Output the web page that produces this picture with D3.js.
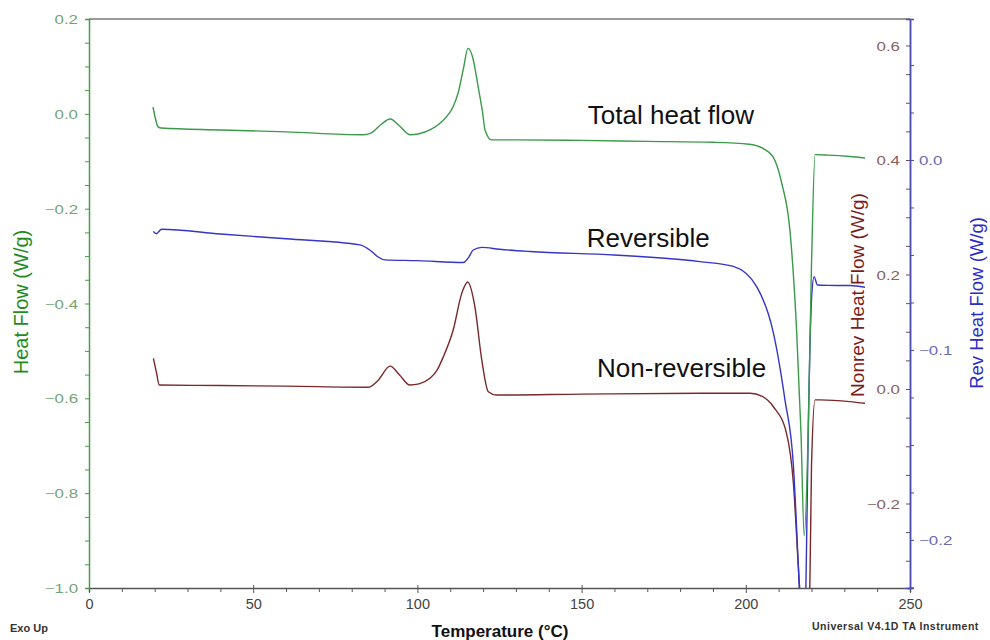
<!DOCTYPE html>
<html>
<head>
<meta charset="utf-8">
<script src="https://cdn.jsdelivr.net/npm/d3@7"></script>
<style>
  body { margin: 0; background: #fff; }
  svg { display: block; font-family: "Liberation Sans", Arial, sans-serif; }
</style>
</head>
<body>
<div id="chart"></div>
<script>
// Total heat flow (W/g), vänster axel
const tempTotal = [19.5, 20.3, 21, 22, 40, 60, 83.4, 86, 89, 91.7, 94.5, 97.7, 100.5, 103.8, 106.5, 108.9, 110.8, 112.4, 114, 115.4, 116.8, 118.5, 119.8, 120.6, 122.6, 130, 150, 170, 190, 201, 205, 208.3, 210.9, 213.5, 215.5, 216.8, 217.8, 219.0, 220.0, 221.1, 225, 231.7, 236.3];
const totalFlow = [0.014, -0.012, -0.027, -0.030, -0.034, -0.038, -0.044, -0.040, -0.022, -0.011, -0.025, -0.044, -0.042, -0.034, -0.022, -0.006, 0.014, 0.044, 0.095, 0.138, 0.120, 0.057, 0.005, -0.034, -0.055, -0.055, -0.056, -0.058, -0.060, -0.064, -0.072, -0.091, -0.145, -0.25, -0.461, -0.672, -0.89, -0.672, -0.32, -0.086, -0.087, -0.09, -0.093];

// Reversible (W/g), höger axel (blå)
const tempRev = [19.6, 20.5, 22.1, 40, 60, 82.5, 85.6, 88, 90.1, 100, 114, 115.5, 117, 119.6, 125, 134.3, 160, 186, 196.2, 203.3, 208.4, 211.9, 214.5, 216, 216.8, 217.4, 218.3, 219, 220, 220.8, 221.8, 225, 231.7, 236.3];
const revFlow = [-0.0377, -0.0388, -0.0365, -0.039, -0.0415, -0.0447, -0.0475, -0.051, -0.0526, -0.053, -0.054, -0.0515, -0.0474, -0.046, -0.047, -0.0482, -0.050, -0.0535, -0.056, -0.0667, -0.091, -0.126, -0.161, -0.214, -0.245, -0.26, -0.225, -0.144, -0.074, -0.0614, -0.0658, -0.066, -0.0661, -0.067];

// Non-reversible (W/g), höger axel (mörkröd)
const tempNonrev = [19.6, 20.5, 21.4, 40, 60, 85, 88, 91.7, 94.5, 97.7, 100.5, 103.8, 106, 107.9, 110.9, 113.5, 115.3, 117.5, 119.6, 121.6, 124.1, 150, 186, 201.3, 205, 208.4, 212.4, 214.5, 216, 217, 217.8, 218.8, 219.5, 220, 221.1, 222.6, 231.7, 236.3];
const nonrevFlow = [0.0536, 0.03, 0.007, 0.006, 0.005, 0.003, 0.015, 0.040, 0.025, 0.007, 0.009, 0.0187, 0.033, 0.0564, 0.103, 0.167, 0.187, 0.144, 0.0507, -0.0047, -0.0105, -0.009, -0.0075, -0.0075, -0.013, -0.031, -0.0774, -0.165, -0.31, -0.40, -0.45, -0.40, -0.345, -0.136, -0.019, -0.019, -0.022, -0.025];

// Axlarnas ticks
const xTicks = [0, 50, 100, 150, 200, 250];
const leftTicks = [-1.0, -0.8, -0.6, -0.4, -0.2, 0.0, 0.2];
const nonrevTicks = [-0.2, 0.0, 0.2, 0.4, 0.6];
const revTicks = [-0.2, -0.1, 0.0];

// texter vid kurvorna, placerade i vänster axels enheter
const labels = [
  {text: "Total heat flow", t: 151.9, v: -0.021},
  {text: "Reversible", t: 151.6, v: -0.28},
  {text: "Non-reversible", t: 154.7, v: -0.554}
];

const width = 990, height = 640;
const mLeft = 89, mRight = 910, mTop = 19, mBottom = 588;

const svg = d3.select("#chart").append("svg")
  .attr("width", width)
  .attr("height", height);

const x = d3.scaleLinear().domain([0, 250]).range([mLeft, mRight]);
const yLeft = d3.scaleLinear().domain([-1.0, 0.2]).range([mBottom, mTop]);
// 0.0 ligger på y=389, 0.4 på y=160
const yNonrev = d3.scaleLinear().domain([-0.3476, 0.6463]).range([mBottom, mTop]);
// 0.0 ligger på y=160, -0.2 på y=540
const yRev = d3.scaleLinear().domain([-0.2253, 0.0742]).range([mBottom, mTop]);

svg.append("clipPath").attr("id", "clip")
  .append("rect")
  .attr("x", mLeft).attr("y", mTop)
  .attr("width", mRight - mLeft).attr("height", mBottom - mTop);

// ram upptill
svg.append("line")
  .attr("x1", mLeft).attr("x2", mRight)
  .attr("y1", mTop).attr("y2", mTop)
  .attr("stroke", "#777").attr("stroke-width", 1.5);

const fmt = d3.format(".1f");
const range = (a, b, s) => d3.range(Math.round(a / s), Math.round(b / s) + 1).map(i => +(i * s).toFixed(4));
const sx = 1.35; // tick-texterna är breda i originalet

// x-axel
const gx = svg.append("g").attr("transform", `translate(0,${mBottom})`);
gx.call(d3.axisBottom(x).tickValues(range(0, 250, 10)).tickSize(4).tickFormat(""));
gx.select("path.domain").attr("stroke", "#555").attr("stroke-width", 1.5);
gx.selectAll(".tick line").attr("stroke", "#555");
gx.selectAll(".tick").filter(d => xTicks.includes(d)).select("line").attr("y1", -3).attr("y2", 5);
gx.selectAll(".tick").filter(d => xTicks.includes(d)).append("text")
  .attr("y", 21)
  .attr("fill", "#444")
  .attr("font-size", 14.5)
  .text(d => d);

// vänster axel
const gl = svg.append("g").attr("transform", `translate(${mLeft},0)`);
gl.call(d3.axisLeft(yLeft).tickValues(range(-1, 0.2, 0.05)).tickSize(4).tickFormat(""));
gl.select("path.domain").attr("stroke", "#4a9c4a").attr("stroke-width", 1.5);
gl.selectAll(".tick line").attr("stroke", "#4a9c4a");
gl.selectAll(".tick").filter(d => leftTicks.some(t => Math.abs(t - d) < 1e-6)).append("text")
  .attr("transform", `scale(${sx},1)`)
  .attr("x", -11 / sx).attr("dy", "0.36em")
  .attr("text-anchor", "end")
  .attr("fill", "#74a474")
  .attr("font-size", 12.5)
  .text(d => fmt(d));

// höger axel, Nonrev (etiketter till vänster om linjen)
const gn = svg.append("g").attr("transform", `translate(${mRight},0)`);
gn.call(d3.axisLeft(yNonrev).tickValues(range(-0.3, 0.6, 0.05)).tickSize(4).tickFormat(""));
gn.select("path.domain").attr("stroke", "#4b4bb0").attr("stroke-width", 1.5);
gn.selectAll(".tick line").attr("stroke", "#6b4a6a");
gn.selectAll(".tick").filter(d => nonrevTicks.some(t => Math.abs(t - d) < 1e-6)).append("text")
  .attr("transform", `scale(${sx},1)`)
  .attr("x", -10 / sx).attr("dy", "0.36em")
  .attr("text-anchor", "end")
  .attr("fill", "#8a6060")
  .attr("font-size", 12.5)
  .text(d => fmt(d));

// höger axel, Rev (etiketter till höger)
const gr = svg.append("g").attr("transform", `translate(${mRight},0)`);
gr.call(d3.axisRight(yRev).tickValues(range(-0.225, 0.05, 0.025)).tickSize(4).tickFormat(""));
gr.select("path.domain").attr("stroke", "#4b4bb0").attr("stroke-width", 1.5);
gr.selectAll(".tick line").attr("stroke", "#4b4bb0");
gr.selectAll(".tick").filter(d => revTicks.some(t => Math.abs(t - d) < 1e-6)).append("text")
  .attr("transform", `scale(${sx},1)`)
  .attr("x", 9 / sx).attr("dy", "0.36em")
  .attr("text-anchor", "start")
  .attr("fill", "#6a6ab0")
  .attr("font-size", 12.5)
  .text(d => fmt(d));

// kurvorna
const plot = svg.append("g").attr("clip-path", "url(#clip)");

function drawLine(ts, vs, y, color) {
  const pts = ts.map((t, i) => [t, vs[i]]);
  const line = d3.line()
    .x(d => x(d[0]))
    .y(d => y(d[1]))
    .curve(d3.curveMonotoneX);
  plot.append("path")
    .datum(pts)
    .attr("d", line)
    .attr("fill", "none")
    .attr("stroke", color)
    .attr("stroke-width", 1.4);
}

drawLine(tempNonrev, nonrevFlow, yNonrev, "#7a2828");
drawLine(tempRev, revFlow, yRev, "#3535c8");
drawLine(tempTotal, totalFlow, yLeft, "#3a9a4a");

// etiketter vid kurvorna
svg.selectAll("text.lbl")
  .data(labels)
  .enter()
    .append("text")
    .attr("class", "lbl")
    .attr("x", d => x(d.t))
    .attr("y", d => yLeft(d.v))
    .attr("font-size", 26)
    .attr("fill", "#111")
    .text(d => d.text);

// axeltitlar
svg.append("text")
  .attr("transform", "translate(28,302) rotate(-90)")
  .attr("text-anchor", "middle")
  .attr("font-size", 20)
  .attr("fill", "#1e8c1e")
  .text("Heat Flow (W/g)");

svg.append("text")
  .attr("transform", "translate(864,295) rotate(-90)")
  .attr("text-anchor", "middle")
  .attr("font-size", 19)
  .attr("fill", "#7b1c1c")
  .text("Nonrev Heat Flow (W/g)");

svg.append("text")
  .attr("transform", "translate(983,303) rotate(-90)")
  .attr("text-anchor", "middle")
  .attr("font-size", 18.5)
  .attr("fill", "#2b2bc8")
  .text("Rev Heat Flow (W/g)");

svg.append("text")
  .attr("x", 500).attr("y", 637)
  .attr("text-anchor", "middle")
  .attr("font-family", "'Liberation Sans Narrow', 'Liberation Sans', Arial")
  .attr("font-weight", "bold")
  .attr("font-size", 17)
  .attr("fill", "#111")
  .text("Temperature (°C)");

svg.append("text")
  .attr("x", 10).attr("y", 632)
  .attr("font-size", 11)
  .attr("font-weight", "bold")
  .attr("fill", "#333")
  .text("Exo Up");

svg.append("text")
  .attr("x", 812).attr("y", 630)
  .attr("font-size", 10.5)
  .attr("font-weight", "bold")
  .attr("letter-spacing", 0.5)
  .attr("fill", "#333")
  .text("Universal V4.1D TA Instrument");
</script>
</body>
</html>
